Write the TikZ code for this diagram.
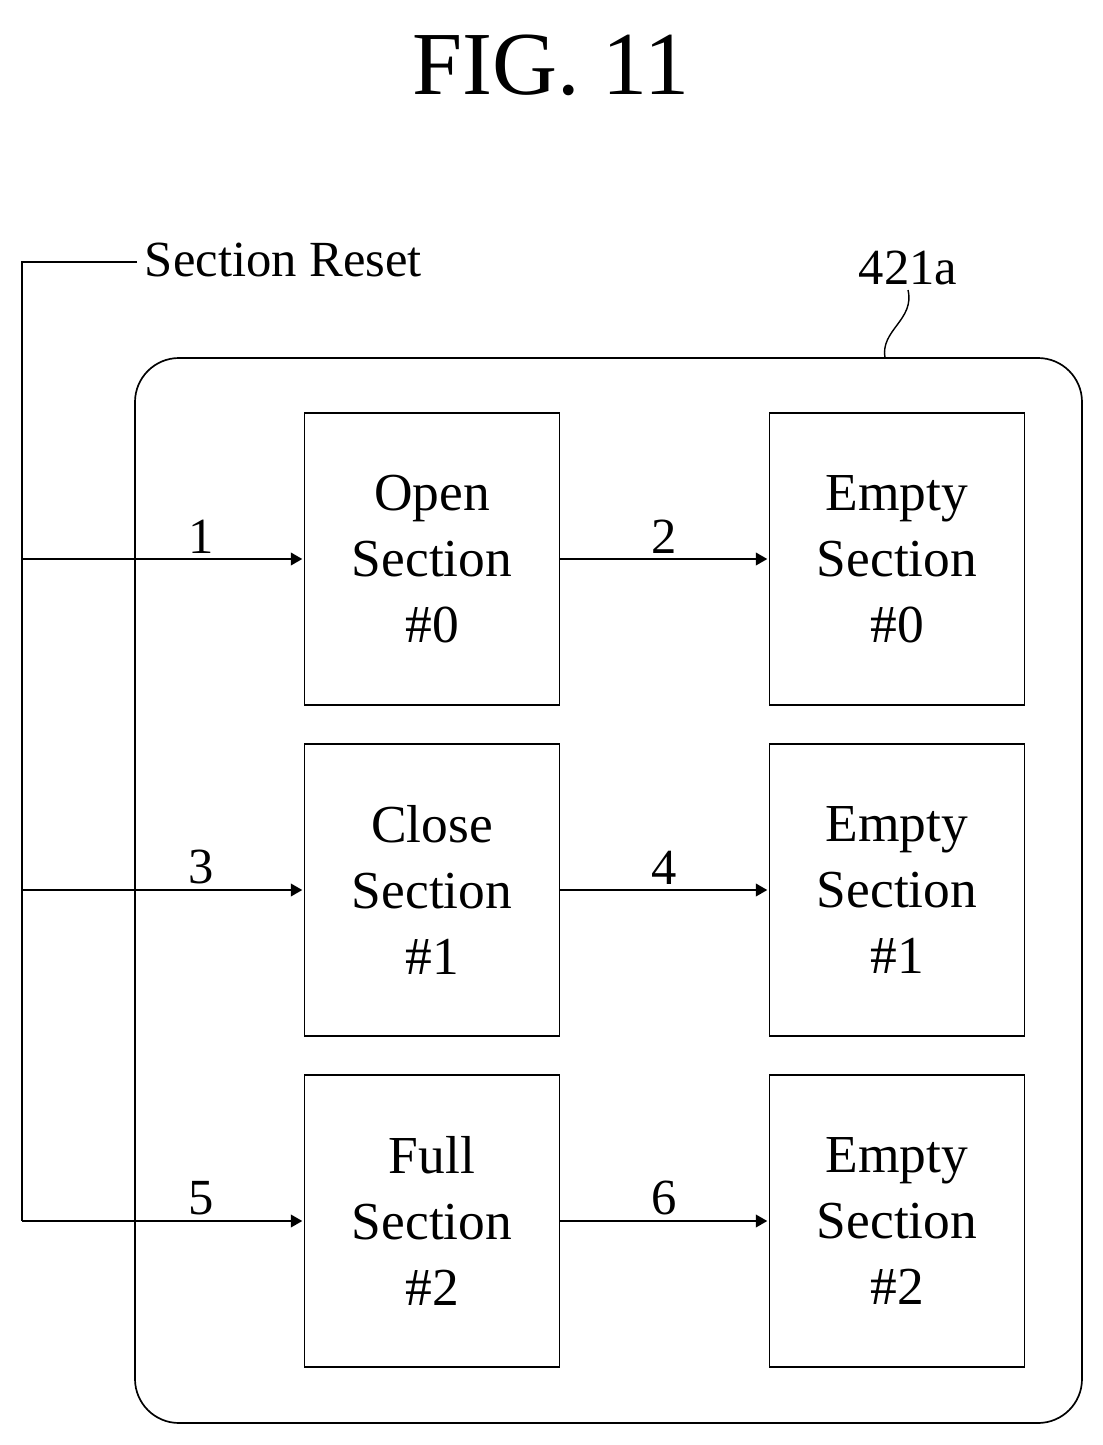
\documentclass[tikz,border=0pt]{standalone}
\usepackage{fontspec}
\setmainfont{Liberation Serif}
\usetikzlibrary{arrows,positioning}
\begin{document}
\begin{tikzpicture}[x=0.025cm,y=-0.025cm]

\tikzstyle{state} = [draw,line width=1.2pt,minimum width=6.375cm,minimum height=7.3cm,inner sep=0,
 align=center,font=\fontsize{38}{47}\selectfont]
\tikzstyle{flow} = [draw,line width=1.2pt,-triangle 60,shorten >=1pt]
\tikzstyle{num} = [font=\fontsize{36}{40}\selectfont]

\useasboundingbox (0,0) rectangle (1103,1445);

\node[font=\fontsize{64}{70}\selectfont] (title) at (551,65) {FIG. 11};

\draw[line width=1.2pt,rounded corners=1.1cm] (135,358) rectangle (1082,1423);
\node[num,anchor=south] (tag) at (908,290) {421a};
\draw[line width=1pt] (tag.south) .. controls (915,320) and (880,330) .. (885,358);

\node[state] (open) at (432,559) {Open\\Section\\\#0};
\node[state] (empty0) at (897,559) {Empty\\Section\\\#0};
\node[state] (close) at (432,890) {Close\\Section\\\#1};
\node[state] (empty1) at (897,890) {Empty\\Section\\\#1};
\node[state] (full) at (432,1221) {Full\\Section\\\#2};
\node[state] (empty2) at (897,1221) {Empty\\Section\\\#2};

\coordinate (top) at (22,262);
\coordinate (topend) at (137,262);
\coordinate (c0) at (22,559);
\coordinate (c1) at (22,890);
\coordinate (c2) at (22,1221);
\node[num,anchor=west] (reset) at (140,260) {Section Reset};
\draw[line width=1.2pt] (topend) -- (top) -- (c2);

\draw[flow] (c0) -- node[num,above,xshift=0.95cm] {1} (open);
\draw[flow] (c1) -- node[num,above,xshift=0.95cm] {3} (close);
\draw[flow] (c2) -- node[num,above,xshift=0.95cm] {5} (full);
\draw[flow] (open) -- node[num,above] {2} (empty0);
\draw[flow] (close) -- node[num,above] {4} (empty1);
\draw[flow] (full) -- node[num,above] {6} (empty2);

\end{tikzpicture}
\end{document}
